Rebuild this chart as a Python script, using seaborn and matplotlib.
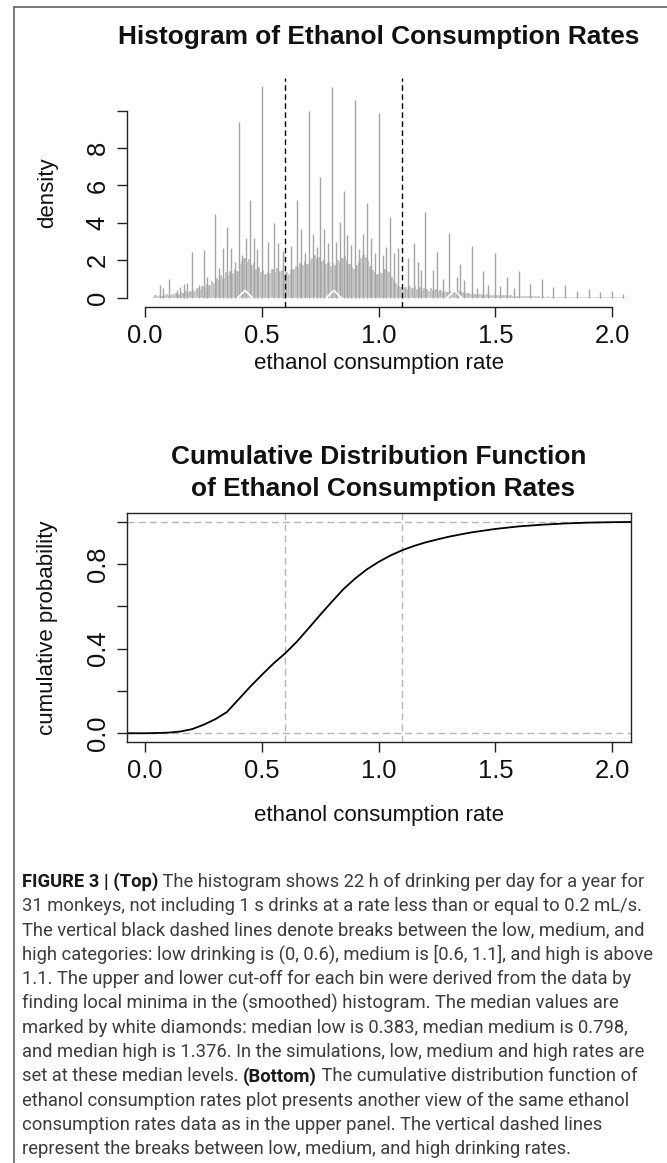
import pandas as pd
import matplotlib
matplotlib.use("Agg")
import matplotlib.pyplot as plt
import seaborn as sns
from matplotlib.lines import Line2D

# ---- data ----
# dense part of the histogram, bins of width 0.01 starting at 0.03
bg_edges = [round(0.03 + 0.01 * i, 3) for i in range(207)]
bg_density = [
    0.05, 0.12, 0.08, 0.15, 0.10, 0.12, 0.18, 0.15, 0.22, 0.18,
    0.25, 0.22, 0.30, 0.26, 0.35, 0.30, 0.38, 0.42, 0.36, 0.50,
    0.45, 0.62, 0.55, 0.75, 0.68, 0.90, 0.80, 1.05, 0.95, 1.20,
    1.05, 1.35, 1.20, 1.45, 1.30, 1.55, 1.45, 1.80, 1.95, 2.10,
    1.90, 2.05, 1.75, 1.85, 1.55, 1.65, 1.40, 1.50, 1.25, 1.40,
    1.30, 1.55, 1.35, 1.60, 1.45, 1.50, 1.20, 1.35, 1.25, 1.50,
    1.55, 1.70, 1.60, 1.85, 1.75, 1.95, 1.80, 2.00, 2.15, 2.30,
    2.10, 2.20, 1.95, 2.05, 1.80, 1.90, 1.70, 1.85, 1.75, 2.00,
    1.90, 2.15, 2.25, 2.00, 1.80, 1.65, 1.55, 1.75, 1.90, 2.10,
    2.30, 2.20, 1.95, 1.70, 1.50, 1.35, 1.25, 1.40, 1.30, 1.55,
    1.45, 1.35, 1.10, 0.95, 0.80, 0.65, 0.55, 0.50, 0.55, 0.45,
    0.60, 0.50, 0.62, 0.48, 0.55, 0.42, 0.50, 0.45, 0.38, 0.50,
    0.40, 0.45, 0.35, 0.40, 0.30, 0.35, 0.28, 0.36, 0.30, 0.38,
    0.32, 0.35, 0.28, 0.30, 0.24, 0.26, 0.22, 0.25, 0.20, 0.22,
    0.18, 0.22, 0.17, 0.19, 0.15, 0.17, 0.14, 0.16, 0.13, 0.15,
    0.12, 0.14, 0.11, 0.12, 0.10, 0.11, 0.09, 0.10, 0.09, 0.10,
    0.08, 0.09, 0.07, 0.08, 0.07, 0.08, 0.06, 0.07, 0.06, 0.07,
    0.05, 0.06, 0.05, 0.06, 0.05, 0.05, 0.04, 0.05, 0.04, 0.05,
    0.04, 0.04, 0.03, 0.04, 0.03, 0.04, 0.03, 0.03, 0.03, 0.03,
    0.02, 0.03, 0.02, 0.03, 0.02, 0.02, 0.02, 0.02, 0.02, 0.02,
    0.02, 0.02, 0.01, 0.02, 0.01, 0.01,
]

# single tall bins (rates that are simple fractions)
spike_x = [
    0.063, 0.075, 0.102, 0.138, 0.150, 0.166, 0.180, 0.202, 0.230, 0.250,
    0.267, 0.300, 0.318, 0.333, 0.350, 0.367, 0.383, 0.400, 0.417, 0.434,
    0.450, 0.465, 0.480, 0.500, 0.525, 0.550, 0.570, 0.590, 0.625, 0.650,
    0.667, 0.685, 0.700, 0.717, 0.735, 0.750, 0.766, 0.785, 0.800, 0.818,
    0.835, 0.850, 0.863, 0.880, 0.900, 0.915, 0.932, 0.950, 0.969, 0.985,
    1.000, 1.020, 1.033, 1.050, 1.067, 1.082, 1.128, 1.150, 1.167, 1.183,
    1.200, 1.234, 1.252, 1.275, 1.300, 1.334, 1.350, 1.366, 1.400, 1.420,
    1.449, 1.467, 1.500, 1.520, 1.549, 1.580, 1.600, 1.649, 1.700, 1.749,
    1.800, 1.849, 1.900, 1.949, 2.000, 2.049,
]
spike_h = [
    0.68, 0.50, 1.00, 0.40, 0.55, 0.72, 0.78, 2.42, 0.70, 2.55,
    1.10, 4.46, 1.60, 2.64, 3.80, 2.64, 1.90, 9.40, 2.30, 3.20,
    5.22, 3.20, 2.60, 11.30, 3.00, 3.97, 2.94, 2.50, 2.78, 5.20,
    3.67, 2.40, 10.00, 3.40, 2.70, 6.43, 3.65, 2.90, 11.25, 3.00,
    4.06, 5.70, 3.35, 2.80, 10.57, 2.60, 3.39, 5.06, 3.20, 2.40,
    9.90, 2.30, 2.70, 4.33, 2.40, 2.67, 2.10, 2.94, 1.90, 1.50,
    4.56, 1.50, 2.46, 1.00, 3.44, 1.09, 1.78, 0.95, 2.76, 0.50,
    1.43, 0.70, 2.37, 0.60, 1.12, 0.50, 1.44, 0.73, 0.98, 0.55,
    0.68, 0.36, 0.46, 0.29, 0.36, 0.20,
]

median_x = [0.428, 0.808, 1.325]   # white diamonds
break_x = [0.6, 1.1]

ecdf_x = [-0.08, 0.0, 0.05, 0.10, 0.15, 0.20, 0.25, 0.30, 0.35, 0.40, 0.45,
          0.50, 0.55, 0.60, 0.65, 0.70, 0.75, 0.80, 0.85, 0.90, 0.95,
          1.00, 1.05, 1.10, 1.15, 1.20, 1.25, 1.30, 1.35, 1.40, 1.50,
          1.60, 1.70, 1.80, 1.90, 2.00, 2.08]
ecdf_y = [0.0, 0.0, 0.001, 0.003, 0.008, 0.019, 0.040, 0.066, 0.100, 0.160, 0.220,
          0.276, 0.330, 0.378, 0.433, 0.496, 0.560, 0.622, 0.682, 0.732, 0.775,
          0.810, 0.840, 0.865, 0.885, 0.902, 0.916, 0.929, 0.940, 0.950, 0.966,
          0.978, 0.986, 0.992, 0.996, 0.998, 0.999]

x_ticks = [0.0, 0.5, 1.0, 1.5, 2.0]
x_tick_labels = ["0.0", "0.5", "1.0", "1.5", "2.0"]
hist_y_ticks = [0, 2, 4, 6, 8, 10]
hist_y_labels = ["0", "2", "4", "6", "8", ""]
cdf_y_ticks = [0.0, 0.2, 0.4, 0.6, 0.8, 1.0]
cdf_y_labels = ["0.0", "", "0.4", "", "0.8", ""]

caption_lines = [
    [("FIGURE 3 | (Top)", True), (" The histogram shows 22 h of drinking per day for a year for", False)],
    [("31 monkeys, not including 1 s drinks at a rate less than or equal to 0.2 mL/s.", False)],
    [("The vertical black dashed lines denote breaks between the low, medium, and", False)],
    [("high categories: low drinking is (0, 0.6), medium is [0.6, 1.1], and high is above", False)],
    [("1.1. The upper and lower cut-off for each bin were derived from the data by", False)],
    [("finding local minima in the (smoothed) histogram. The median values are", False)],
    [("marked by white diamonds: median low is 0.383, median medium is 0.798,", False)],
    [("and median high is 1.376. In the simulations, low, medium and high rates are", False)],
    [("set at these median levels. ", False), ("(Bottom)", True), (" The cumulative distribution function of", False)],
    [("ethanol consumption rates plot presents another view of the same ethanol", False)],
    [("consumption rates data as in the upper panel. The vertical dashed lines", False)],
    [("represent the breaks between low, medium, and high drinking rates.", False)],
]

# ---- style ----
sns.set_style("ticks")
plt.rcParams["font.family"] = ["Liberation Sans", "DejaVu Sans"]
CAPTION_FONT = ["Roboto", "DejaVu Sans"]

BAR_GRAY = "#B2B2B2"
SPIKE_GRAY = "#A4A4A4"
W, H = 667, 1163
fig = plt.figure(figsize=(W / 100, H / 100), dpi=100)


def px_axes(left, top, right, bottom):
    return fig.add_axes([left / W, 1 - bottom / H, (right - left) / W, (bottom - top) / H])


def style_ticks(ax):
    ax.tick_params(direction="out", length=7.2, width=1.0, color="#222222",
                   labelsize=18.4, labelcolor="#111111")
    ax.tick_params(axis="x", pad=5)
    ax.tick_params(axis="y", pad=5)
    for lab in ax.get_yticklabels():
        lab.set_rotation(90)
        lab.set_va("center")


# ---- top: histogram ----
ax1 = px_axes(126.7, 78.3, 630.7, 306.7)
centers = [(a + b) / 2 for a, b in zip(bg_edges[:-1], bg_edges[1:])]
hist_df = pd.DataFrame({"rate": centers, "density": bg_density})
sns.histplot(data=hist_df, x="rate", weights="density", bins=bg_edges, ax=ax1,
             color=BAR_GRAY, alpha=1, edgecolor="white", linewidth=0.3)
ax1.vlines(spike_x, 0, spike_h, color=SPIKE_GRAY, lw=1.0)
for b in break_x:
    ax1.axvline(b, color="black", lw=1.0, ls=(0, (4, 2.5)))
ax1.scatter(median_x, [0] * len(median_x), marker="D", s=55, facecolors="none",
            edgecolors="white", linewidths=1.3, zorder=5)
ax1.set_xlim(-0.079, 2.080)
ax1.set_ylim(-0.48, 11.73)
ax1.set_xticks(x_ticks, x_tick_labels)
ax1.set_yticks(hist_y_ticks, hist_y_labels)
ax1.set_xlabel("")
ax1.set_ylabel("")
sns.despine(ax=ax1)
ax1.spines["left"].set_bounds(0, 10)
ax1.spines["bottom"].set_bounds(0, 2)
for s in ("left", "bottom"):
    ax1.spines[s].set_linewidth(1.0)
    ax1.spines[s].set_color("#222222")
style_ticks(ax1)

# ---- bottom: ECDF ----
ax2 = px_axes(126.7, 513.3, 630.7, 741.7)
for h in (0, 1):
    ax2.axhline(h, color="#B5B5B5", lw=1.0, ls=(0, (5, 3)))
for b in break_x:
    ax2.axvline(b, color="#B5B5B5", lw=1.0, ls=(0, (5, 3)))
sns.lineplot(x=ecdf_x, y=ecdf_y, ax=ax2, color="black", lw=1.3)
ax2.set_xlim(-0.079, 2.080)
ax2.set_ylim(-0.04, 1.04)
ax2.set_xticks(x_ticks, x_tick_labels)
ax2.set_yticks(cdf_y_ticks, cdf_y_labels)
for s in ax2.spines.values():
    s.set_linewidth(1.0)
    s.set_color("#222222")
style_ticks(ax2)

# ---- titles and axis labels ----
cx = 378.7 / W
title_kw = dict(ha="center", va="baseline", fontsize=18.9, fontweight="bold", color="#111111")
fig.text(cx, 1 - 44.3 / H, "Histogram of Ethanol Consumption Rates", **title_kw)
fig.text(cx, 1 - 464 / H, "Cumulative Distribution Function", **title_kw)
fig.text(cx + 4 / W, 1 - 496 / H, "of Ethanol Consumption Rates", **title_kw)
label_kw = dict(ha="center", va="center", fontsize=16, color="#111111")
fig.text(cx, 1 - 364 / H, "ethanol consumption rate", **label_kw)
fig.text(cx, 1 - 816 / H, "ethanol consumption rate", **label_kw)
fig.text(48 / W, 1 - 192.5 / H, "density", rotation=90, **label_kw)
fig.text(48 / W, 1 - 627.5 / H, "cumulative probability", rotation=90, **label_kw)

# frame of the figure page
fig.add_artist(Line2D([14 / W, 14 / W], [0, 1 - 6.7 / H], color="#555555", lw=1.1))
fig.add_artist(Line2D([14 / W, 1], [1 - 6.7 / H, 1 - 6.7 / H], color="#555555", lw=1.1))

# ---- caption ----
fig.canvas.draw()
renderer = fig.canvas.get_renderer()

probe = fig.text(0, 0, caption_lines[3][0][0], fontsize=10, family=CAPTION_FONT)
cap_size = 10 * 633 / probe.get_window_extent(renderer).width
probe.remove()

first_base, step = 887, 24.3
for i, segs in enumerate(caption_lines):
    x = 22.0
    y = 1 - (first_base + i * step) / H
    for text, bold in segs:
        t = fig.text(x / W, y, text, fontsize=cap_size, family=CAPTION_FONT,
                     fontweight="bold" if bold else "normal",
                     color="#1a1a1a" if bold else "#3c3c3c", va="baseline")
        x += t.get_window_extent(renderer).width

fig.savefig("out.png", dpi=100)
